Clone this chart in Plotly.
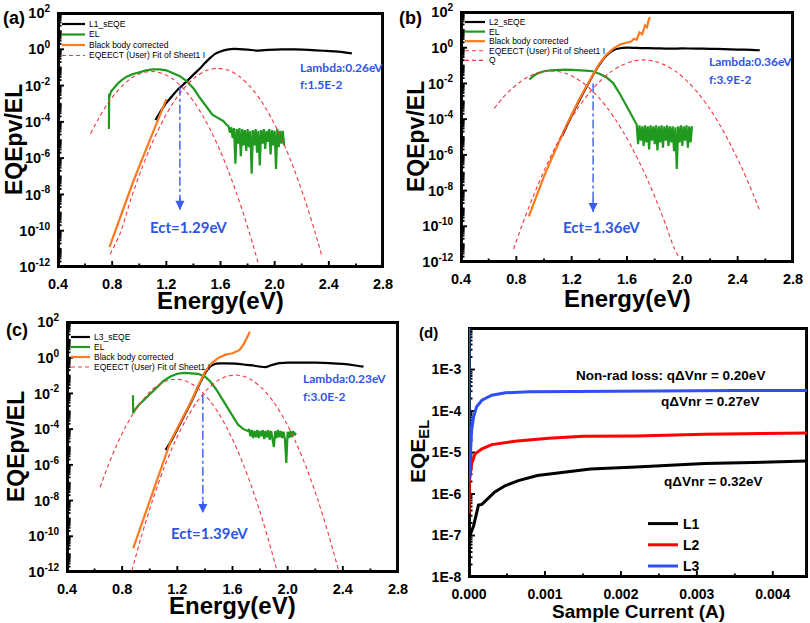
import math
import plotly.graph_objects as go

# ======================= DATA =======================
# ---- panel (a) : L1 ----
E_A_SEQE = [1.12, 1.16, 1.20, 1.24, 1.28, 1.32, 1.36, 1.40, 1.44, 1.48, 1.52, 1.56, 1.60, 1.65, 1.70,
            1.80, 1.87, 1.95, 2.05, 2.15, 2.25, 2.36, 2.45, 2.57]
A_SEQE = [1.26e-4, 4.0e-4, 1.12e-3, 2.5e-3, 5.6e-3, 1.05e-2, 2.0e-2, 4.0e-2, 7.6e-2, 0.158, 0.316, 0.562,
          0.76, 0.955, 1.05, 0.955, 0.85, 0.93, 1.0, 0.98, 0.93, 0.83, 0.76, 0.6]
E_A_EL = [0.776, 0.778, 0.782, 0.79, 0.81, 0.84, 0.87, 0.91, 0.95, 1.00, 1.05, 1.10, 1.15, 1.20, 1.25,
          1.30, 1.35, 1.40, 1.45, 1.50, 1.54, 1.58, 1.62, 1.65,
          1.66, 1.67, 1.68, 1.69, 1.70, 1.71, 1.72, 1.73, 1.74, 1.75, 1.76, 1.77, 1.78, 1.79, 1.80,
          1.81, 1.82, 1.83, 1.84, 1.85, 1.86, 1.87, 1.88, 1.89, 1.90, 1.91, 1.92, 1.93, 1.94, 1.95,
          1.96, 1.97, 1.98, 1.99, 2.00, 2.01, 2.02, 2.03, 2.04, 2.05, 2.06, 2.07]
A_EL = [4.0e-5, 3.5e-3, 2.5e-3, 4.5e-3, 7.1e-3, 1.26e-2, 2.0e-2, 3.2e-2, 4.2e-2, 5.6e-2, 6.9e-2, 7.9e-2,
        7.9e-2, 6.9e-2, 5.0e-2, 3.3e-2, 1.78e-2, 7.1e-3, 2.0e-3, 6.3e-4, 2.5e-4, 1.66e-4, 1.12e-4, 6.3e-5,
        5.6e-5, 2.5e-5, 5.0e-5, 1.26e-5, 4.5e-5, 5.0e-7, 4.0e-5, 6.3e-6, 4.5e-5, 1.26e-6,
        4.0e-5, 5.0e-6, 3.5e-5, 2.5e-6, 4.0e-5, 4.0e-6, 3.2e-5, 1.4e-7, 3.5e-5, 5.0e-6,
        4.0e-5, 2.0e-6, 3.2e-5, 4.0e-7, 3.5e-5, 6.3e-6, 4.0e-5, 3.2e-6, 3.2e-5, 7.9e-6,
        4.0e-5, 1.6e-6, 3.5e-5, 5.0e-6, 3.2e-5, 2.5e-7, 4.0e-5, 4.0e-6, 3.2e-5, 6.3e-6,
        3.2e-5, 5.0e-6]
E_A_BB = [0.78, 0.85, 0.90, 0.95, 1.00, 1.05, 1.10, 1.15, 1.20]
A_BB = [1.26e-11, 3.55e-10, 4.0e-9, 4.0e-8, 3.55e-7, 3.16e-6, 2.5e-5, 2.24e-4, 1.78e-3]
E_A_FIT1 = [0.64, 0.70, 0.76, 0.82, 0.88, 0.94, 1.00, 1.06, 1.09, 1.12, 1.18, 1.24, 1.30, 1.36, 1.42,
            1.48, 1.54, 1.60, 1.66, 1.72, 1.78, 1.84, 1.88]
A_FIT1 = [2.19e-5, 1.55e-4, 8.5e-4, 3.47e-3, 1.07e-2, 2.51e-2, 4.37e-2, 5.75e-2, 6.03e-2, 5.75e-2, 4.37e-2,
          2.51e-2, 1.07e-2, 3.47e-3, 8.5e-4, 1.55e-4, 2.19e-5, 2.29e-6, 1.82e-7, 1.07e-8, 4.9e-10,
          1.66e-11, 1.48e-12]
E_A_FIT2 = [0.785, 0.86, 0.94, 1.02, 1.10, 1.18, 1.26, 1.34, 1.42, 1.50, 1.58, 1.66, 1.74, 1.82, 1.90,
            1.98, 2.06, 2.14, 2.22, 2.30, 2.35]
A_FIT2 = [5.0e-12, 7.6e-11, 6.0e-9, 2.88e-7, 8.3e-6, 1.41e-4, 1.45e-3, 8.7e-3, 3.16e-2, 6.9e-2, 8.9e-2,
          6.9e-2, 3.16e-2, 8.7e-3, 1.45e-3, 1.41e-4, 8.3e-6, 2.88e-7, 6.0e-9, 7.6e-11, 3.7e-12]

# ---- panel (b) : L2 ----
E_B_SEQE = [1.13, 1.20, 1.30, 1.40, 1.45, 1.50, 1.55, 1.60, 1.70, 1.80, 1.90, 2.00, 2.10, 2.20, 2.30,
            2.40, 2.50, 2.56]
B_SEQE = [1.1e-5, 1.6e-4, 5.0e-3, 0.112, 0.355, 0.72, 0.93, 1.0, 0.955, 0.93, 0.89, 0.91, 0.89, 0.87,
          0.83, 0.79, 0.76, 0.72]
E_B_EL = [0.895, 0.92, 0.95, 1.00, 1.05, 1.10, 1.15, 1.20, 1.25, 1.30, 1.35, 1.40, 1.45, 1.50, 1.55,
          1.60, 1.63, 1.66,
          1.67, 1.68, 1.69, 1.70, 1.71, 1.72, 1.73, 1.74, 1.75, 1.76, 1.77, 1.78, 1.79, 1.80, 1.81,
          1.82, 1.83, 1.84, 1.85, 1.86, 1.87, 1.88, 1.89, 1.90, 1.91, 1.92, 1.93, 1.94, 1.95, 1.96,
          1.97, 1.98, 1.99, 2.00, 2.01, 2.02, 2.03, 2.04, 2.05, 2.06, 2.07]
B_EL = [1.66e-2, 2.5e-2, 3.55e-2, 4.8e-2, 5.4e-2, 5.75e-2, 5.9e-2, 5.75e-2, 5.6e-2, 5.25e-2, 4.8e-2,
        3.5e-2, 2.24e-2, 1.05e-2, 2.5e-3, 5.0e-4, 1.78e-4, 6.3e-5,
        5.0e-5, 4.0e-6, 4.5e-5, 6.3e-6, 4.0e-5, 3.2e-6, 4.5e-5, 5.0e-6, 4.0e-5, 2.0e-6,
        4.5e-5, 6.3e-6, 4.0e-5, 4.0e-6, 4.5e-5, 1.78e-6, 4.0e-5, 5.0e-6, 4.5e-5, 2.5e-6,
        4.0e-5, 6.3e-6, 4.5e-5, 3.2e-6, 4.0e-5, 5.0e-6, 4.0e-5, 1.6e-6, 3.5e-5, 1.6e-7,
        4.0e-5, 5.0e-6, 4.5e-5, 3.2e-6, 4.0e-5, 6.3e-6, 4.5e-5, 2.5e-6, 4.0e-5, 5.0e-6,
        4.0e-5]
E_B_BB = [0.89, 0.95, 1.00, 1.05, 1.10, 1.15, 1.20, 1.25, 1.30, 1.35, 1.40, 1.45, 1.50, 1.55, 1.60,
          1.63, 1.65, 1.67, 1.69, 1.71, 1.73, 1.745, 1.755, 1.766]
B_BB = [3.55e-10, 6.3e-9, 6.3e-8, 5.0e-7, 4.0e-6, 2.8e-5, 1.78e-4, 1.12e-3, 5.6e-3, 2.8e-2, 0.126, 0.398,
        0.89, 1.51, 1.91, 2.24, 3.16, 2.82, 7.1, 5.6, 17.8, 14.1, 31.6, 52.5]
E_B_FIT1 = [0.64, 0.70, 0.76, 0.82, 0.88, 0.94, 1.00, 1.05, 1.10, 1.16, 1.22, 1.28, 1.34, 1.40, 1.46,
            1.52, 1.58, 1.64, 1.70, 1.76, 1.82, 1.88, 1.94, 1.98]
B_FIT1 = [4.0e-4, 1.48e-3, 4.47e-3, 1.1e-2, 2.19e-2, 3.55e-2, 4.68e-2, 5.0e-2, 4.68e-2, 3.55e-2, 2.19e-2,
          1.1e-2, 4.47e-3, 1.48e-3, 4.0e-4, 8.7e-5, 1.55e-5, 2.24e-6, 2.63e-7, 2.51e-8, 1.95e-9,
          1.23e-10, 6.3e-12, 1.58e-12]
E_B_Q = [0.78, 0.84, 0.92, 1.00, 1.08, 1.16, 1.24, 1.32, 1.40, 1.48, 1.56, 1.64, 1.72, 1.80, 1.88, 1.96,
         2.04, 2.12, 2.20, 2.28, 2.36, 2.44, 2.52, 2.56]
B_Q = [5.25e-12, 1.07e-10, 4.37e-9, 1.26e-7, 2.51e-6, 3.63e-5, 3.63e-4, 2.51e-3, 1.23e-2, 4.27e-2, 0.102,
       0.174, 0.209, 0.174, 0.102, 4.27e-2, 1.23e-2, 2.51e-3, 3.63e-4, 3.63e-5, 2.51e-6, 1.26e-7,
       4.37e-9, 7.08e-10]

# ---- panel (c) : L3 ----
E_C_SEQE = [1.115, 1.16, 1.20, 1.25, 1.30, 1.35, 1.40, 1.44, 1.48, 1.55, 1.62, 1.70, 1.76, 1.80, 1.84,
            1.88, 1.93, 2.00, 2.10, 2.20, 2.30, 2.40, 2.48, 2.55]
C_SEQE = [6.8e-6, 2.5e-5, 1.0e-4, 5.6e-4, 3.2e-3, 2.2e-2, 0.13, 0.33, 0.468, 0.479, 0.468, 0.398,
          0.355, 0.316, 0.295, 0.38, 0.479, 0.525, 0.537, 0.525, 0.5, 0.447, 0.38, 0.316]
E_C_EL = [0.878, 0.880, 0.89, 0.92, 0.96, 1.00, 1.05, 1.10, 1.15, 1.20, 1.25, 1.30, 1.35, 1.40, 1.44,
          1.48, 1.52, 1.56, 1.60, 1.64, 1.68, 1.71,
          1.72, 1.73, 1.74, 1.75, 1.76, 1.77, 1.78, 1.79, 1.80, 1.81, 1.82, 1.83, 1.84, 1.85, 1.86,
          1.87, 1.88, 1.89, 1.90, 1.91, 1.92, 1.93, 1.94, 1.95, 1.96, 1.97, 1.98, 1.99, 2.00, 2.01,
          2.02, 2.03, 2.04, 2.05, 2.06]
C_EL = [7.9e-3, 7.9e-4, 1.12e-3, 2.24e-3, 4.47e-3, 8.9e-3, 2.0e-2, 5.0e-2, 8.9e-2, 0.126, 0.141, 0.135,
        0.126, 8.9e-2, 4.47e-2, 1.78e-2, 5.6e-3, 1.78e-3, 5.0e-4, 1.78e-4, 1.0e-4, 7.9e-5,
        1.0e-4, 4.0e-5, 8.9e-5, 3.2e-5, 7.9e-5, 3.5e-5, 8.9e-5, 3.2e-5, 7.9e-5, 4.0e-5,
        8.9e-5, 2.8e-5, 7.9e-5, 3.5e-5, 8.9e-5, 2.5e-5, 7.9e-5, 3.5e-5, 1.0e-5, 7.9e-5,
        3.2e-5, 8.9e-5, 3.5e-5, 7.9e-5, 3.2e-5, 7.1e-5, 2.8e-5, 1.26e-6, 7.1e-5, 3.2e-5,
        7.9e-5, 3.5e-5, 7.9e-5, 4.5e-5, 6.3e-5]
E_C_BB = [0.88, 0.95, 1.00, 1.05, 1.10, 1.15, 1.20, 1.25, 1.30, 1.35, 1.40, 1.45, 1.50, 1.55, 1.60,
          1.65, 1.68, 1.70, 1.726]
C_BB = [2.14e-11, 7.9e-10, 1.12e-8, 1.41e-7, 2.0e-6, 2.0e-5, 1.12e-4, 6.3e-4, 3.55e-3, 2.51e-2, 0.158,
        0.5, 1.0, 1.48, 1.78, 2.63, 5.6, 11.2, 28.8]
E_C_FIT1 = [0.64, 0.70, 0.76, 0.82, 0.88, 0.94, 1.00, 1.06, 1.12, 1.19, 1.26, 1.32, 1.38, 1.44, 1.50,
            1.56, 1.62, 1.68, 1.74, 1.80, 1.86, 1.92]
C_FIT1 = [5.6e-8, 1.0e-6, 1.26e-5, 1.15e-4, 7.6e-4, 3.55e-3, 1.2e-2, 2.88e-2, 5.0e-2, 6.3e-2, 5.0e-2,
          2.88e-2, 1.2e-2, 3.55e-3, 7.6e-4, 1.15e-4, 1.26e-5, 1.0e-6, 5.6e-8, 2.29e-9, 6.6e-11, 1.38e-12]
E_C_FIT2 = [0.87, 0.94, 1.02, 1.10, 1.18, 1.26, 1.34, 1.42, 1.50, 1.56, 1.62, 1.68, 1.74, 1.82, 1.90,
            1.98, 2.06, 2.14, 2.22, 2.30, 2.37]
C_FIT2 = [1.15e-12, 1.02e-10, 1.02e-8, 5.75e-7, 1.78e-5, 3.16e-4, 3.16e-3, 1.78e-2, 5.6e-2, 9.1e-2, 0.107,
          9.1e-2, 5.6e-2, 1.78e-2, 3.16e-3, 3.16e-4, 1.78e-5, 5.75e-7, 1.02e-8, 1.02e-10, 1.15e-12]

# ---- CT-state markers (Ect arrows) and fit parameters ----
ECT_X = [1.30, 1.355, 1.385]          # arrow positions (eV)
ECT_TOP = [8.7e-3, 1.0e-2, 8.5e-3]    # arrow start (EQE value)
ECT_TIP = [1.4e-9, 6.3e-10, 2.0e-9]   # arrow end (EQE value)
ECT_LABELS = ["Ect=1.29eV", "Ect=1.36eV", "Ect=1.39eV"]
LAMBDA_LABELS = ["Lambda:0.26eV", "Lambda:0.36eV", "Lambda:0.23eV"]
F_LABELS = ["f:1.5E-2", "f:3.9E-2", "f:3.0E-2"]

# ---- panel (d) : EQE_EL vs sample current ----
I_L1 = [0, 0.00002, 0.00006, 0.0001, 0.000125, 0.00017, 0.00023, 0.00034, 0.00048, 0.00065, 0.0009,
        0.0013, 0.0016, 0.0022, 0.0031, 0.00445]
EQE_L1 = [9.5e-8, 1.1e-7, 1.7e-7, 3.4e-7, 5.4e-7, 5.6e-7, 7.1e-7, 1.12e-6, 1.6e-6, 2.1e-6, 2.8e-6,
          3.4e-6, 4.0e-6, 4.5e-6, 5.4e-6, 6.2e-6]
I_L2 = [0, 0.000005, 0.000036, 0.00008, 0.00017, 0.0003, 0.0006, 0.00105, 0.0015, 0.0022, 0.0031, 0.00445]
EQE_L2 = [3.4e-7, 2.0e-6, 5.4e-6, 9.3e-6, 1.23e-5, 1.55e-5, 1.86e-5, 2.2e-5, 2.45e-5, 2.5e-5, 2.75e-5, 2.95e-5]
I_L3 = [0, 0, 0.000035, 0.00006, 0.0001, 0.00017, 0.0003, 0.00048, 0.0008, 0.0015, 0.0025, 0.0035, 0.00445]
EQE_L3 = [1.0e-2, 2.1e-6, 3.5e-5, 7.2e-5, 1.26e-4, 1.82e-4, 2.4e-4, 2.75e-4, 2.9e-4, 3.0e-4, 3.05e-4,
          3.1e-4, 3.1e-4]
NONRAD_LABELS = ["Non-rad loss: q\u0394Vnr = 0.20eV", "q\u0394Vnr = 0.27eV", "q\u0394Vnr = 0.32eV"]

# tick labels
E_TICKS = [0.4, 0.8, 1.2, 1.6, 2.0, 2.4, 2.8]
E_MINOR = [0.6, 1.0, 1.4, 1.8, 2.2, 2.6]
Y_EXP = [-12, -10, -8, -6, -4, -2, 0, 2]
D_EXP = [-8, -7, -6, -5, -4, -3]
I_TICKS = [0.0, 0.001, 0.002, 0.003, 0.004]
I_MINOR = [0.0005, 0.0015, 0.0025, 0.0035]

# ======================= STYLE / LAYOUT =======================
W, H = 810, 623
FONT = "Liberation Sans"
BLUE_TXT = "#2f55e4"
INK = "#000000"
C_BLACK, C_GREEN, C_ORANGE, C_RED = "#000000", "#1f9a1f", "#ff7a1f", "#f2383f"

# plot-area boxes in pixels: (left, right, top, bottom)
BOX_A, BOX_B, BOX_C, BOX_D = (58, 383, 13, 267), (461, 793, 12, 262), (67, 398, 322, 572), (469, 807, 328, 577)
RX_E, RY_E = [0.4, 2.8], [-12, 2]
RX_D, RY_D = [0, 0.00445], [-8, -2]


def px(x):
    return x / W


def py(y):
    return 1 - y / H


fig = go.Figure()
shapes = []

LOG_MINOR = [k * 10.0 ** n for n in range(-12, 2) for k in range(2, 10)] + [10.0 ** n for n in range(-11, 2, 2)]
D_MINOR = [k * 10.0 ** n for n in range(-8, -2) for k in range(2, 10)]
axis_sets = [
    ("x", "y", BOX_A, RX_E, RY_E, E_TICKS, E_MINOR, [10.0 ** e for e in Y_EXP], LOG_MINOR),
    ("x2", "y2", BOX_B, RX_E, RY_E, E_TICKS, E_MINOR, [10.0 ** e for e in Y_EXP], LOG_MINOR),
    ("x3", "y3", BOX_C, RX_E, RY_E, E_TICKS, E_MINOR, [10.0 ** e for e in Y_EXP], LOG_MINOR),
    ("x4", "y4", BOX_D, RX_D, RY_D, I_TICKS, I_MINOR, [10.0 ** e for e in D_EXP], D_MINOR),
]


def frame_pixels(box, rx, ry, xmaj, xmin, ymaj, ymin):
    """Frame + tick segments of one panel, in page pixels (None separates segments)."""
    L, R, T, B = box
    xs, ys = [L + 1, R - 1, R - 1, L + 1, L + 1, None], [B - 1, B - 1, T + 1, T + 1, B - 1, None]
    for ln, xv, yv in [(6, xmaj, ymaj), (3.5, xmin, ymin)]:
        for v in xv:
            xp = L + (v - rx[0]) / (rx[1] - rx[0]) * (R - L)
            xs += [xp, xp, None]
            ys += [B, B - ln, None]
        for v in yv:
            yp = B - (math.log10(v) - ry[0]) / (ry[1] - ry[0]) * (B - T)
            xs += [L, L + ln, None]
            ys += [yp, yp, None]
    return xs, ys


def pix_to_data(xs, ys, box, rx, ry):
    """Page pixels -> data coordinates of the panel drawn in `box` (log y axis)."""
    L, R, T, B = box
    dx, dy = [], []
    for x, y in zip(xs, ys):
        if x is None:
            dx.append(None)
            dy.append(None)
            continue
        dx.append(rx[0] + (x - L) / (R - L) * (rx[1] - rx[0]))
        dy.append(10.0 ** (ry[1] - (y - T) / (B - T) * (ry[1] - ry[0])))
    return dx, dy


# frame + ticks of each panel through its own axes
for k, (xa, ya, box, rx, ry, xmaj, xmin, ymaj, ymin) in enumerate(axis_sets):
    xs, ys = frame_pixels(box, rx, ry, xmaj, xmin, ymaj, ymin)
    dx, dy = pix_to_data(xs, ys, box, rx, ry)
    fig.add_trace(go.Scatter(x=dx, y=dy, mode="lines", line=dict(color=INK, width=1.9),
                             xaxis=xa, yaxis=ya, showlegend=False, hoverinfo="skip", name="frame",
                             cliponaxis=(k == 0)))

# panels (b)-(d) frames once more, carried by the axes of panel (a) (unclipped)
for xa, ya, box, rx, ry, xmaj, xmin, ymaj, ymin in axis_sets[1:]:
    xs, ys = frame_pixels(box, rx, ry, xmaj, xmin, ymaj, ymin)
    dx, dy = pix_to_data(xs, ys, BOX_A, RX_E, RY_E)
    fig.add_trace(go.Scatter(x=dx, y=dy, mode="lines", line=dict(color=INK, width=1.9),
                             xaxis="x", yaxis="y", showlegend=False, hoverinfo="skip", name="frame",
                             cliponaxis=False))

panels = [
    dict(x="x", y="y", seqe=(E_A_SEQE, A_SEQE, "L1_sEQE"), el=(E_A_EL, A_EL), bb=(E_A_BB, A_BB),
         fits=[(E_A_FIT1, A_FIT1), (E_A_FIT2, A_FIT2)]),
    dict(x="x2", y="y2", seqe=(E_B_SEQE, B_SEQE, "L2_sEQE"), el=(E_B_EL, B_EL), bb=(E_B_BB, B_BB),
         fits=[(E_B_FIT1, B_FIT1), (E_B_Q, B_Q)]),
    dict(x="x3", y="y3", seqe=(E_C_SEQE, C_SEQE, "L3_sEQE"), el=(E_C_EL, C_EL), bb=(E_C_BB, C_BB),
         fits=[(E_C_FIT1, C_FIT1), (E_C_FIT2, C_FIT2)]),
]

for p in panels:
    xa, ya = p["x"], p["y"]
    fig.add_trace(go.Scatter(x=p["seqe"][0], y=p["seqe"][1], mode="lines", name=p["seqe"][2],
                             line=dict(color=C_BLACK, width=2.2, shape="spline", smoothing=0.6),
                             xaxis=xa, yaxis=ya, showlegend=False))
    fig.add_trace(go.Scatter(x=p["el"][0], y=p["el"][1], mode="lines", name="EL",
                             line=dict(color=C_GREEN, width=2.2), xaxis=xa, yaxis=ya, showlegend=False))
    fig.add_trace(go.Scatter(x=p["bb"][0], y=p["bb"][1], mode="lines", name="Black body corrected",
                             line=dict(color=C_ORANGE, width=2.2), xaxis=xa, yaxis=ya, showlegend=False))
    (f1x, f1y), (f2x, f2y) = p["fits"]
    fig.add_trace(go.Scatter(x=f1x + [None] + f2x, y=f1y + [None] + f2y, mode="lines",
                             name="EQEECT (User) Fit of Sheet1 I", connectgaps=False,
                             line=dict(color=C_RED, width=1.1, dash="4px,3px", shape="spline", smoothing=0.8),
                             xaxis=xa, yaxis=ya, showlegend=False))

# Ect arrows (dash-dot line + arrow head)
for i, p in enumerate(panels):
    fig.add_trace(go.Scatter(x=[ECT_X[i], ECT_X[i]], y=[ECT_TOP[i], ECT_TIP[i]], mode="lines",
                             line=dict(color="#3a5cf0", width=1.4, dash="dashdot"), name="Ect",
                             xaxis=p["x"], yaxis=p["y"], showlegend=False, hoverinfo="skip"))
    fig.add_annotation(x=ECT_X[i], y=math.log10(ECT_TIP[i]), xref=p["x"], yref=p["y"], text="",
                       showarrow=True, arrowhead=2, arrowsize=1.3, arrowwidth=1.4, arrowcolor="#3a5cf0",
                       ax=0, ay=-14)

# panel (d)
for I, V, nm, col in [(I_L1, EQE_L1, "L1", "#000000"), (I_L2, EQE_L2, "L2", "#ff0000"),
                      (I_L3, EQE_L3, "L3", "#2f4ff5")]:
    fig.add_trace(go.Scatter(x=I, y=V, mode="lines", name=nm, line=dict(color=col, width=3),
                             xaxis="x4", yaxis="y4", showlegend=True))

# ======================= AXES =======================
tickfont = dict(family=FONT, size=14.5, color=INK, weight="bold")
base = dict(showline=True, linewidth=1, linecolor=INK, mirror=True, showgrid=False, zeroline=False,
            automargin=False, ticks="", ticklabelstandoff=4)


def dom_x(box):
    return [px(box[0]), px(box[1])]


def dom_y(box):
    return [py(box[3]), py(box[2])]


def energy_x(box, anchor):
    return dict(domain=dom_x(box), anchor=anchor, range=RX_E, tickmode="array", tickvals=E_TICKS,
                ticktext=[f"{v:.1f}" for v in E_TICKS], tickfont=tickfont, **base)


def eqe_y(box, anchor):
    return dict(domain=dom_y(box), anchor=anchor, type="log", range=RY_E, tickmode="array",
                tickvals=[10.0 ** e for e in Y_EXP], ticktext=[f"10<sup>{e}</sup>" for e in Y_EXP],
                tickfont=tickfont, **base)


fig.update_layout(
    xaxis=energy_x(BOX_A, "y"), yaxis=eqe_y(BOX_A, "x"),
    xaxis2=energy_x(BOX_B, "y2"), yaxis2=eqe_y(BOX_B, "x2"),
    xaxis3=energy_x(BOX_C, "y3"), yaxis3=eqe_y(BOX_C, "x3"),
    xaxis4=dict(domain=dom_x(BOX_D), anchor="y4", range=RX_D, tickmode="array",
                tickvals=I_TICKS, ticktext=[f"{v:.3f}" for v in I_TICKS],
                tickfont=dict(family=FONT, size=14, color=INK, weight="bold"), **base),
    yaxis4=dict(domain=dom_y(BOX_D), anchor="x4", type="log", range=RY_D, tickmode="array",
                tickvals=[10.0 ** e for e in D_EXP], ticktext=[f"1E{e}" for e in D_EXP],
                tickfont=dict(family=FONT, size=14, color=INK, weight="bold"), **base),
)

fig.update_layout(
    width=W, height=H, margin=dict(l=0, r=0, t=0, b=0), paper_bgcolor="white", plot_bgcolor="white",
    font=dict(family=FONT, color=INK),
    legend=dict(x=px(643), y=py(508), xanchor="left", yanchor="top", bgcolor="rgba(0,0,0,0)",
                font=dict(family=FONT, size=14, color=INK, weight="bold"), tracegroupgap=0),
)

# ======================= axis titles =======================
titles = [
    ("Energy(eV)", 220, 300, 0, 24), ("Energy(eV)", 627, 298, 0, 24), ("Energy(eV)", 232, 605, 0, 24),
    ("Sample Current (A)", 638, 611, 0, 19),
    ("EQEpv/EL", 14, 140, -90, 23), ("EQEpv/EL", 416, 137, -90, 23), ("EQEpv/EL", 16, 447, -90, 23),
    ("EQE<sub>EL</sub>", 419, 452, -90, 21),
]
for t, x, y, ang, s in titles:
    fig.add_annotation(xref="paper", yref="paper", x=px(x), y=py(y), text=t, showarrow=False,
                       xanchor="center", yanchor="middle", textangle=ang,
                       font=dict(family=FONT, size=s, color=INK, weight="bold"))

# ======================= manual legends for panels (a)-(c) =======================
legend_specs = [
    dict(names=["L1_sEQE", "EL", "Black body corrected", "EQEECT (User) Fit of Sheet1 I"],
         x0=62, x1=85, tx=87, y0=24, dy=10.5),
    dict(names=["L2_sEQE", "EL", "Black body corrected", "EQEECT (User) Fit of Sheet1 I", "Q"],
         x0=465, x1=485, tx=487, y0=22, dy=9.6),
    dict(names=["L3_sEQE", "EL", "Black body corrected", "EQEECT (User) Fit of Sheet1 I"],
         x0=71, x1=90, tx=92, y0=337, dy=10),
]
leg_styles = [(C_BLACK, 2.2, "solid"), (C_GREEN, 2.2, "solid"), (C_ORANGE, 2.2, "solid"),
              (C_RED, 1.1, "4px,3px"), (C_RED, 1.1, "4px,3px")]
for spec in legend_specs:
    for j, nm in enumerate(spec["names"]):
        yy = spec["y0"] + j * spec["dy"]
        col, wid, dash = leg_styles[j]
        shapes.append(dict(type="line", xref="paper", yref="paper", x0=px(spec["x0"]), x1=px(spec["x1"]),
                           y0=py(yy), y1=py(yy), line=dict(color=col, width=wid, dash=dash)))
        fig.add_annotation(xref="paper", yref="paper", x=px(spec["tx"]), y=py(yy), text=nm,
                           showarrow=False, xanchor="left", yanchor="middle",
                           font=dict(family=FONT, size=8.5, color=INK))

fig.update_layout(shapes=shapes)

# ======================= text annotations =======================
ect_pos = [(1.36, -9.8), (1.417, -10.04), (1.436, -9.83)]
lam_pos = [(2.17, -1.0, -1.95), (2.176, -0.75, -1.78), (2.10, -1.19, -2.18)]
for i, p in enumerate(panels):
    fig.add_annotation(x=ect_pos[i][0], y=ect_pos[i][1], xref=p["x"], yref=p["y"], text=ECT_LABELS[i],
                       showarrow=False, xanchor="center", yanchor="middle",
                       font=dict(family="Lato", size=15, color=BLUE_TXT, weight="bold"))
    fig.add_annotation(x=lam_pos[i][0], y=lam_pos[i][1], xref=p["x"], yref=p["y"], text=LAMBDA_LABELS[i],
                       showarrow=False, xanchor="left", yanchor="middle",
                       font=dict(family="Lato", size=12, color=BLUE_TXT, weight="bold"))
    fig.add_annotation(x=lam_pos[i][0], y=lam_pos[i][2], xref=p["x"], yref=p["y"], text=F_LABELS[i],
                       showarrow=False, xanchor="left", yanchor="middle",
                       font=dict(family="Lato", size=12, color=BLUE_TXT, weight="bold"))

d_txt = [(0.00265, -3.14), (0.00318, -3.76), (0.00322, -5.71)]
for (xv, yv), t in zip(d_txt, NONRAD_LABELS):
    fig.add_annotation(x=xv, y=yv, xref="x4", yref="y4", text=t, showarrow=False, xanchor="center",
                       yanchor="middle", font=dict(family=FONT, size=13.5, color=INK, weight="bold"))

for t, x, y, s in [("(a)", 1, 6, 18), ("(b)", 397, 6, 18), ("(c)", 4, 318, 18), ("(d)", 417, 322, 15)]:
    fig.add_annotation(xref="paper", yref="paper", x=px(x), y=py(y), text=t, showarrow=False,
                       xanchor="left", yanchor="top", font=dict(family=FONT, size=s, color=INK, weight="bold"))

fig.write_html("out.html", config={"displayModeBar": False, "responsive": False, "staticPlot": True},
               post_script="document.body.style.margin='0';document.body.style.padding='0';")
